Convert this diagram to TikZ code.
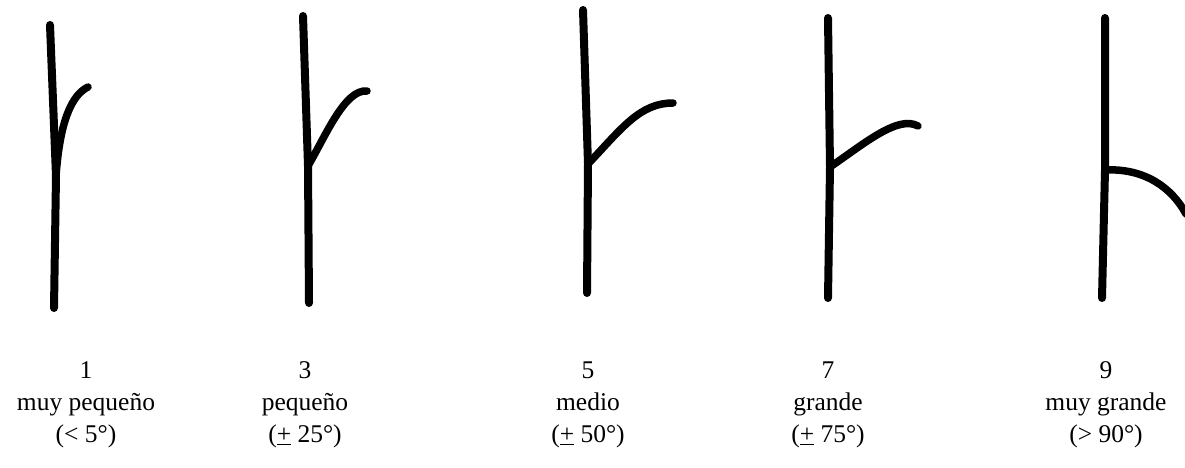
\documentclass[tikz,border=0pt]{standalone}
\usepackage{fontspec}
\setmainfont{Liberation Serif}
\usetikzlibrary{positioning}

\begin{document}
\begin{tikzpicture}[
    x=1pt, y=-1pt,
    stem/.style={line width=8pt, line cap=round, line join=round},
    branch/.style={line width=7.5pt, line cap=round},
    lbl/.style={align=center, inner sep=0pt,
                font=\fontsize{25.5}{32}\selectfont}
  ]
  \useasboundingbox (0,0) rectangle (1185,468);

  % stems: top, junction, bottom
  \coordinate (t1) at (50,25);   \coordinate (j1) at (56,176);  \coordinate (b1) at (54,308);
  \coordinate (t2) at (303,16);  \coordinate (j2) at (308,166); \coordinate (b2) at (309,303);
  \coordinate (t3) at (583,10);  \coordinate (j3) at (588,164); \coordinate (b3) at (587,293);
  \coordinate (t4) at (828,18);  \coordinate (j4) at (830,167); \coordinate (b4) at (828,298);
  \coordinate (t5) at (1105,18); \coordinate (j5) at (1105,170); \coordinate (b5) at (1102,298);

  % branch tips
  \coordinate (e1) at (88,87);
  \coordinate (e2) at (367,91);
  \coordinate (e3) at (673,103);
  \coordinate (e4) at (918,126);
  \coordinate (e5) at (1186,214);

  \draw[stem] (t1) -- (j1) -- (b1);
  \draw[stem] (t2) -- (j2) -- (b2);
  \draw[stem] (t3) -- (j3) -- (b3);
  \draw[stem] (t4) -- (j4) -- (b4);
  \draw[stem] (t5) -- (j5) -- (b5);

  \draw[branch] (j1) .. controls (60,120) and (72,95) .. (e1);
  \draw[branch] (j2) .. controls (326,135) and (345,89) .. (e2);
  \draw[branch] (j3) .. controls (622,128) and (640,103) .. (e3);
  \draw[branch] (j4) .. controls (865,143) and (898,115) .. (e4);
  \draw[branch] (j5) .. controls (1145,168) and (1172,188) .. (e5);

  % scores
  \node[lbl] (n1) at (86,405)   {1\\muy pequeño\\(< 5°)};
  \node[lbl] (n3) at (305,405)  {3\\pequeño\\(\underline{+} 25°)};
  \node[lbl] (n5) at (588,405)  {5\\medio\\(\underline{+} 50°)};
  \node[lbl] (n7) at (828,405)  {7\\grande\\(\underline{+} 75°)};
  \node[lbl] (n9) at (1106,405) {9\\muy grande\\(> 90°)};
\end{tikzpicture}
\end{document}
